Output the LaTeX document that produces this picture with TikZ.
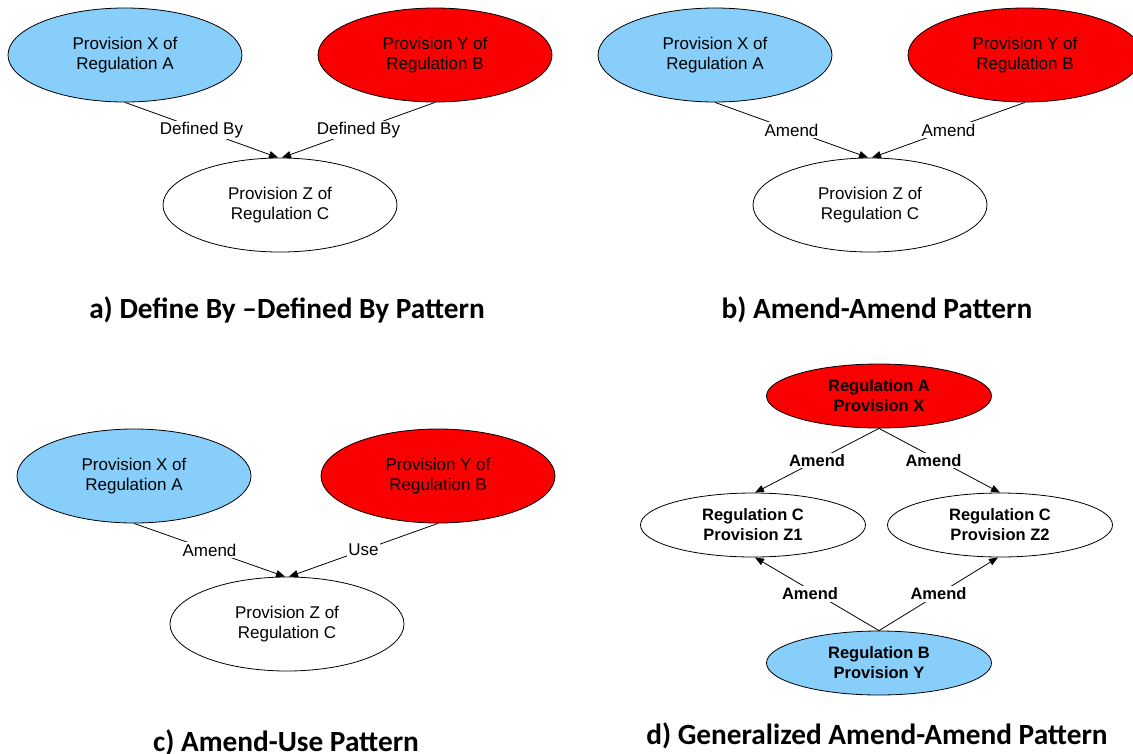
\documentclass[tikz,border=0pt]{standalone}
\usepackage{fontspec}
\setmainfont{Liberation Sans}
\newfontfamily\titlefont{Carlito}
\usetikzlibrary{shapes.geometric,arrows.meta}
\definecolor{skyfill}{RGB}{135,206,250}
\definecolor{redfill}{RGB}{250,0,0}
\tikzset{
  prov/.style={ellipse, draw=black, line width=0.8pt, inner sep=0pt,
    minimum width=234pt, minimum height=94pt, align=center,
    font=\fontsize{17}{20}\selectfont},
  provb/.style={ellipse, draw=black, line width=0.8pt, inner sep=0pt,
    minimum width=225pt, minimum height=64pt, align=center,
    font=\fontsize{16.5}{20}\selectfont\bfseries},
  blue/.style={fill=skyfill},
  redn/.style={fill=redfill},
  white/.style={fill=white},
  rel/.style={draw=black, line width=0.8pt, -{Triangle[length=9pt,width=7pt]}},
  lbl/.style={fill=white, inner sep=1.5pt, font=\fontsize{17}{20}\selectfont},
  lblb/.style={fill=white, inner sep=1.5pt, font=\fontsize{16.5}{20}\selectfont\bfseries},
  caption/.style={anchor=base, inner sep=0pt, font=\titlefont\fontsize{29.3}{31}\selectfont\bfseries}
}
\begin{document}
\begin{tikzpicture}[x=1pt,y=-1pt]
\useasboundingbox (0,0) rectangle (1133,753);
\clip (0,0) rectangle (1133,753);

% a) Defined By -- Defined By
\node[prov,blue] (aX) at (125,55) {Provision X of\\Regulation A};
\node[prov,redn] (aY) at (435,55) {Provision Y of\\Regulation B};
\node[prov,white] (aZ) at (280,205) {Provision Z of\\Regulation C};
\draw[rel] (aX.south) -- node[lbl] {Defined By} ([xshift=-2pt]aZ.north);
\draw[rel] (aY.south) -- node[lbl] {Defined By} ([xshift=2pt]aZ.north);
\node[caption] (acap) at (287,318) {a) Define By –Defined By Pattern};

% b) Amend -- Amend
\node[prov,blue] (bX) at (715,55) {Provision X of\\Regulation A};
\node[prov,redn] (bY) at (1025,55) {Provision Y of\\Regulation B};
\node[prov,white] (bZ) at (870,205) {Provision Z of\\Regulation C};
\draw[rel] (bX.south) -- node[lbl] {Amend} ([xshift=-2pt]bZ.north);
\draw[rel] (bY.south) -- node[lbl] {Amend} ([xshift=2pt]bZ.north);
\node[caption] (bcap) at (877,318) {b) Amend-Amend Pattern};

% c) Amend -- Use
\node[prov,blue] (cX) at (134,476) {Provision X of\\Regulation A};
\node[prov,redn] (cY) at (438,476) {Provision Y of\\Regulation B};
\node[prov,white] (cZ) at (287,624) {Provision Z of\\Regulation C};
\draw[rel] (cX.south) -- node[lbl] {Amend} ([xshift=-2pt]cZ.north);
\draw[rel] (cY.south) -- node[lbl] {Use} ([xshift=2pt]cZ.north);
\node[caption] (ccap) at (286,751) {c) Amend-Use Pattern};

% d) Generalized Amend -- Amend
\node[provb,redn] (dA) at (879,396) {Regulation A\\Provision X};
\node[provb,white] (dZ1) at (753,525) {Regulation C\\Provision Z1};
\node[provb,white] (dZ2) at (1000,525) {Regulation C\\Provision Z2};
\node[provb,blue] (dB) at (879,663) {Regulation B\\Provision Y};
\draw[rel] (dA.south) -- node[lblb,pos=0.5] {Amend} ([xshift=2pt]dZ1.north);
\draw[rel] (dA.south) -- node[lblb,pos=0.5,xshift=-6pt] {Amend} (dZ2.north);
\draw[rel] (dB.north) -- node[lblb,pos=0.5,xshift=-7pt] {Amend} ([xshift=2pt]dZ1.south);
\draw[rel] (dB.north) -- node[lblb,pos=0.5] {Amend} ([xshift=-2pt]dZ2.south);
\node[caption] (dcap) at (877,744) {d) Generalized Amend-Amend Pattern};
\end{tikzpicture}
\end{document}
